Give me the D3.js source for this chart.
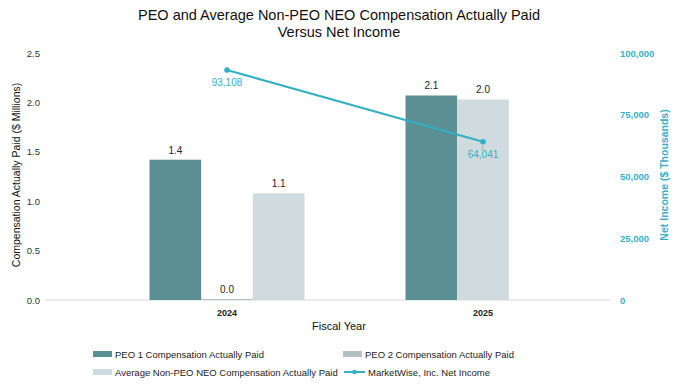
<!DOCTYPE html>
<html>
<head>
<meta charset="utf-8">
<script src="https://cdn.jsdelivr.net/npm/d3@7"></script>
<style>
  body { margin: 0; background: #fff; }
  svg { font-family: "Liberation Sans", Arial, sans-serif; }
</style>
</head>
<body>
<svg id="chart"></svg>
<script>
// data
const years = ['2024', '2025'];
const seriesNames = ['PEO 1 Compensation Actually Paid', 'PEO 2 Compensation Actually Paid', 'Average Non-PEO NEO Compensation Actually Paid'];
const peo1 = [1.42, 2.07];
const peo2 = [0.01, null];
const avgNeo = [1.08, 2.03];
const netIncome = [93108, 64041];
const leftTicks = [0, 0.5, 1.0, 1.5, 2.0, 2.5];
const rightTicks = [0, 25000, 50000, 75000, 100000];

const W = 677, H = 385;
const colors = ['#5a8f94', '#b3c1c5', '#cfdbde'];
const lineColor = '#34afc3';
const axisTeal = '#3aafc6';

const svg = d3.select('#chart').attr('width', W).attr('height', H);

const x = d3.scaleBand().domain(years).range([99, 611]).padding(0);
const yL = d3.scaleLinear().domain([0, 2.5]).range([300, 53]);
const yR = d3.scaleLinear().domain([0, 100000]).range([300, 53]);
const groupW = 155;
const slot = d3.scaleBand().domain([0, 1, 2]).range([0, groupW]).padding(0);

// title
svg.append('text').attr('x', 339).attr('y', 20).attr('text-anchor', 'middle')
  .attr('font-size', 14.5).attr('fill', '#111')
  .text('PEO and Average Non-PEO NEO Compensation Actually Paid');
svg.append('text').attr('x', 339).attr('y', 37).attr('text-anchor', 'middle')
  .attr('font-size', 14.5).attr('fill', '#111')
  .text('Versus Net Income');

// left axis labels
svg.append('g').selectAll('text').data(leftTicks).join('text')
  .attr('x', 40).attr('y', d => yL(d) + 3.5).attr('text-anchor', 'end')
  .attr('font-size', 9.5).attr('fill', '#333')
  .text(d => d3.format('.1f')(d));

// right axis labels
svg.append('g').selectAll('text').data(rightTicks).join('text')
  .attr('x', 620).attr('y', d => yR(d) + 3.5).attr('text-anchor', 'start')
  .attr('font-size', 9.5).attr('font-weight', 'bold').attr('fill', axisTeal)
  .text(d => d3.format(',')(d));

// baseline
svg.append('line').attr('x1', 45).attr('x2', 611).attr('y1', yL(0)).attr('y2', yL(0))
  .attr('stroke', '#d9d9d9').attr('stroke-width', 1);

// bars: present series packed from the left of each group
const bars = [];
years.forEach((yr, i) => {
  const vals = [peo1[i], peo2[i], avgNeo[i]];
  let k = 0;
  vals.forEach((v, s) => {
    if (v === null) return;
    bars.push({ yr, s, v, k });
    k++;
  });
});
const g = svg.append('g');
g.selectAll('rect').data(bars).join('rect')
  .attr('x', d => x(d.yr) + x.bandwidth() / 2 - groupW / 2 + slot(d.k))
  .attr('width', slot.bandwidth())
  .attr('y', d => yL(d.v))
  .attr('height', d => yL(0) - yL(d.v))
  .attr('fill', d => colors[d.s]);
g.selectAll('text').data(bars).join('text')
  .attr('x', d => x(d.yr) + x.bandwidth() / 2 - groupW / 2 + slot(d.k) + slot.bandwidth() / 2)
  .attr('y', d => yL(d.v) - 6)
  .attr('text-anchor', 'middle').attr('font-size', 10).attr('fill', '#222')
  .text(d => d3.format('.1f')(d.v));

// x labels
svg.append('g').selectAll('text').data(years).join('text')
  .attr('x', d => x(d) + x.bandwidth() / 2).attr('y', 316).attr('text-anchor', 'middle')
  .attr('font-size', 9).attr('font-weight', 'bold').attr('fill', '#222')
  .text(d => d);
svg.append('text').attr('x', 339).attr('y', 330).attr('text-anchor', 'middle')
  .attr('font-size', 11).attr('fill', '#111').text('Fiscal Year');

// axis titles
svg.append('text').attr('transform', 'translate(20,175) rotate(-90)')
  .attr('text-anchor', 'middle').attr('font-size', 10.5).attr('fill', '#111')
  .text('Compensation Actually Paid ($ Millions)');
svg.append('text').attr('transform', 'translate(668,175) rotate(-90)')
  .attr('text-anchor', 'middle').attr('font-size', 10.5).attr('font-weight', 'bold').attr('fill', axisTeal)
  .text('Net Income ($ Thousands)');

// line
const pts = years.map((yr, i) => ({ yr, v: netIncome[i] }));
const cx = d => x(d.yr) + x.bandwidth() / 2;
svg.append('path').datum(pts)
  .attr('d', d3.line().x(cx).y(d => yR(d.v)))
  .attr('fill', 'none').attr('stroke', lineColor).attr('stroke-width', 2);
svg.append('g').selectAll('circle').data(pts).join('circle')
  .attr('cx', cx).attr('cy', d => yR(d.v)).attr('r', 2.8).attr('fill', lineColor);
svg.append('line').attr('x1', cx(pts[1]) ).attr('x2', cx(pts[1]) - 1)
  .attr('y1', yR(pts[1].v) + 4).attr('y2', yR(pts[1].v) + 8)
  .attr('stroke', '#999').attr('stroke-width', 0.8);
svg.append('g').selectAll('text').data(pts).join('text')
  .attr('x', cx).attr('y', d => yR(d.v) + 16).attr('text-anchor', 'middle')
  .attr('font-size', 10).attr('fill', lineColor)
  .text(d => d3.format(',')(d.v));

// legend
const legend = [
  { label: seriesNames[0], type: 'bar', c: colors[0], x: 93, y: 354 },
  { label: seriesNames[1], type: 'bar', c: colors[1], x: 343, y: 354 },
  { label: seriesNames[2], type: 'bar', c: colors[2], x: 93, y: 372 },
  { label: 'MarketWise, Inc. Net Income', type: 'line', c: lineColor, x: 344, y: 372 }
];
const lg = svg.append('g').selectAll('g').data(legend).join('g')
  .attr('transform', d => `translate(${d.x},${d.y})`);
lg.filter(d => d.type === 'bar').append('rect')
  .attr('x', 0).attr('y', -3).attr('width', 19).attr('height', 6).attr('fill', d => d.c);
lg.filter(d => d.type === 'line').append('line')
  .attr('x1', 0).attr('x2', 21).attr('y1', 0).attr('y2', 0)
  .attr('stroke', d => d.c).attr('stroke-width', 2);
lg.filter(d => d.type === 'line').append('circle')
  .attr('cx', 10.5).attr('cy', 0).attr('r', 2.3).attr('fill', d => d.c);
lg.append('text').attr('x', d => d.type === 'line' ? 24 : 22).attr('y', 3.5)
  .attr('font-size', 9.5).attr('fill', '#222').text(d => d.label);
</script>
</body>
</html>
